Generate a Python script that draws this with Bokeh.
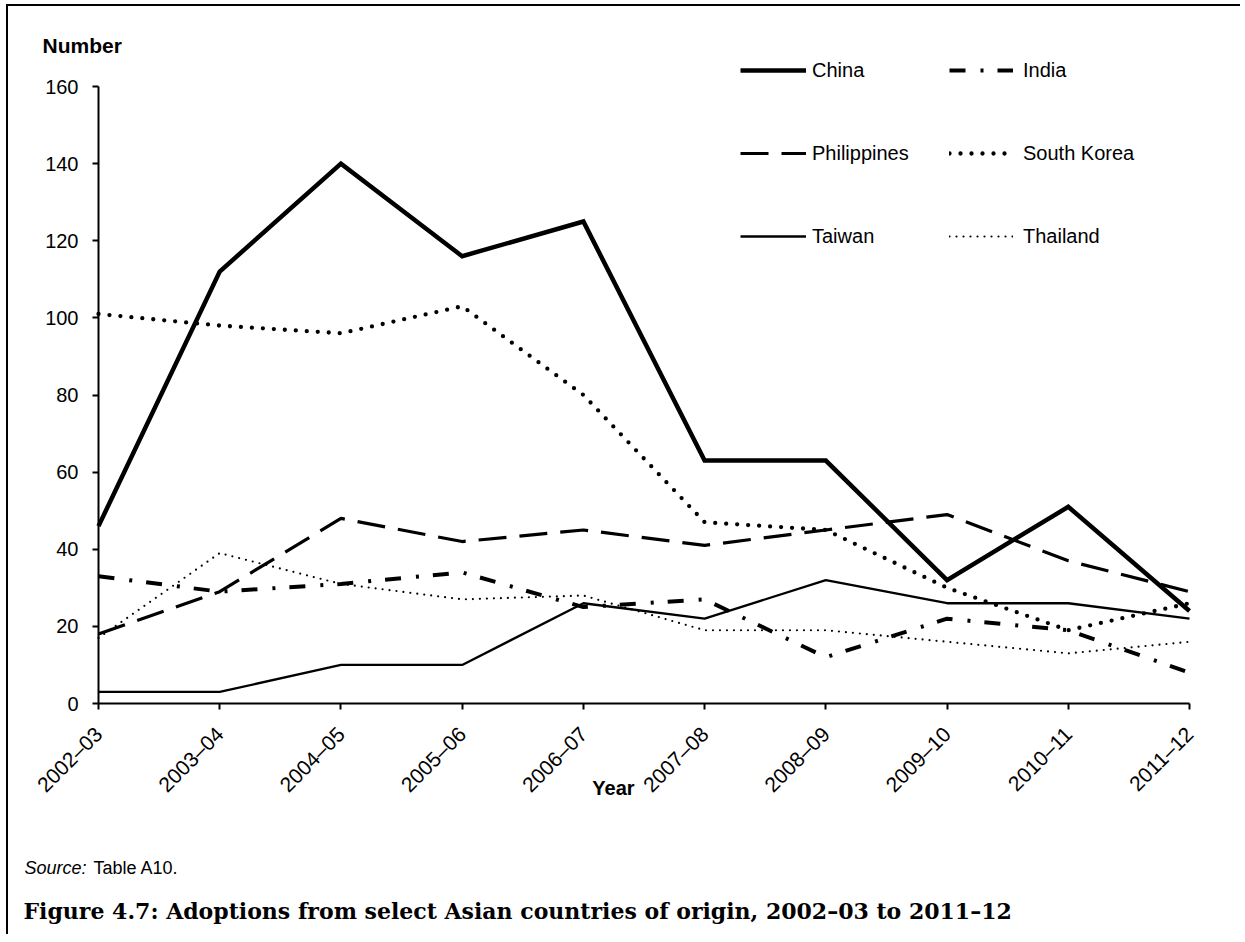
import math
from bokeh.plotting import figure
from bokeh.models import Range1d, FixedTicker, Legend, LegendItem, Label
from bokeh.embed import file_html
from bokeh.resources import INLINE

# ---- data ----
years = ["2002–03", "2003–04", "2004–05", "2005–06", "2006–07",
         "2007–08", "2008–09", "2009–10", "2010–11", "2011–12"]
china = [46, 112, 140, 116, 125, 63, 63, 32, 51, 24]
india = [33, 29, 31, 34, 25, 27, 12, 22, 19, 8]
philippines = [18, 29, 48, 42, 45, 41, 45, 49, 37, 29]
south_korea = [101, 98, 96, 103, 80, 47, 45, 30, 19, 26]
taiwan = [3, 3, 10, 10, 26, 22, 32, 26, 26, 22]
thailand = [17, 39, 31, 27, 28, 19, 19, 16, 13, 16]
y_ticks = [0, 20, 40, 60, 80, 100, 120, 140, 160]

xs = list(range(len(years)))
FONT = "Liberation Sans"

# ---- layout geometry (page pixels) ----
W, H = 1234, 930
CANVAS_X, CANVAS_Y = 8, 6          # canvas origin on the page (after CSS margin + border)
AX_LEFT, AX_RIGHT = 98, 1189       # page x of first / last category
AX_TOP, AX_BOTTOM = 86, 703        # page y of top / bottom y tick

n = len(years) - 1
px_x = (AX_RIGHT - AX_LEFT) / n
px_y = (AX_BOTTOM - AX_TOP) / (y_ticks[-1] - y_ticks[0])
x_start = 0 - (AX_LEFT - CANVAS_X) / px_x
x_end = n + (CANVAS_X + W - AX_RIGHT) / px_x
y_end = y_ticks[-1] + (AX_TOP - CANVAS_Y) / px_y
y_start = y_ticks[0] - (CANVAS_Y + H - AX_BOTTOM) / px_y

p = figure(width=W, height=H, output_backend="svg", toolbar_location=None,
           x_range=Range1d(x_start, x_end), y_range=Range1d(y_start, y_end),
           min_border=0, background_fill_color="white", border_fill_color="white")
p.styles = {"border-top": "2px solid black", "border-left": "2px solid black",
            "margin-top": "4px", "margin-left": "6px"}
p.outline_line_color = None
p.grid.visible = False

# axes (drawn at data positions inside the frame)
p.xaxis.fixed_location = y_ticks[0]
p.yaxis.fixed_location = 0
p.xaxis.bounds = (0, n)
p.yaxis.bounds = (y_ticks[0], y_ticks[-1])
p.xaxis.ticker = FixedTicker(ticks=xs)
p.xaxis.major_label_overrides = {i: y for i, y in zip(xs, years)}
p.xaxis.major_label_orientation = math.pi / 4
p.yaxis.ticker = FixedTicker(ticks=y_ticks)
for ax in (p.xaxis[0], p.yaxis[0]):
    ax.axis_line_width = 2
    ax.axis_line_color = "black"
    ax.major_tick_line_width = 2
    ax.major_tick_line_color = "black"
    ax.major_tick_out = 6
    ax.major_tick_in = 0
    ax.minor_tick_line_color = None
    ax.major_label_text_font = FONT
    ax.major_label_text_font_size = "20px"
    ax.major_label_text_color = "black"
p.xaxis.major_label_text_font_size = "21px"
p.yaxis.major_label_standoff = 14
p.xaxis.major_label_standoff = 21

# series
r_china = p.line(xs, china, line_color="black", line_width=4.5, line_join="miter")
r_korea = p.line(xs, south_korea, line_color="black", line_width=4.3, line_dash="0 11", line_cap="round")
r_phil = p.line(xs, philippines, line_color="black", line_width=3.2, line_dash="28 13")
r_india = p.line(xs, india, line_color="black", line_width=4, line_dash="16 15 3 14")
r_taiwan = p.line(xs, taiwan, line_color="black", line_width=2.3)
r_thai = p.line(xs, thailand, line_color="black", line_width=2.2, line_dash="0 7", line_cap="round")

def sx(page_x):
    return page_x - CANVAS_X

def sy(page_y):
    return CANVAS_Y + H - page_y

def make_legend(items, page_x, glyph_w, standoff):
    lg = Legend(items=items, location=(sx(page_x), sy(248)), orientation="vertical",
                glyph_width=glyph_w, glyph_height=24, label_height=24,
                label_standoff=standoff, spacing=59, padding=0, margin=0,
                border_line_alpha=0, background_fill_alpha=0,
                label_text_font=FONT, label_text_font_size="20px", label_text_color="black")
    p.add_layout(lg, "center")

make_legend([LegendItem(label="China", renderers=[r_china]),
             LegendItem(label="Philippines", renderers=[r_phil]),
             LegendItem(label="Taiwan", renderers=[r_taiwan])], 740, 66, 6)
make_legend([LegendItem(label="India", renderers=[r_india]),
             LegendItem(label="South Korea", renderers=[r_korea]),
             LegendItem(label="Thailand", renderers=[r_thai])], 949, 64, 10)

def add_text(txt, page_x, page_y, size, style="normal", font=FONT, align="left"):
    p.add_layout(Label(x=sx(page_x), y=sy(page_y), x_units="screen", y_units="screen", text=txt,
                       text_font=font, text_font_size=size, text_font_style=style,
                       text_align=align, text_baseline="middle", text_color="black"))

add_text("Number", 42, 45, "21px", "bold")
add_text("Year", 613, 787, "20px", "bold", align="center")
add_text("Source:", 24, 867, "18px", "italic")
add_text("Table A10.", 93, 867, "18px")
add_text("Figure 4.7: Adoptions from select Asian countries of origin, 2002–03 to 2011–12",
         23, 910, "22px", "bold", font="DejaVu Serif")

open("out.html", "w").write(file_html(p, INLINE))
